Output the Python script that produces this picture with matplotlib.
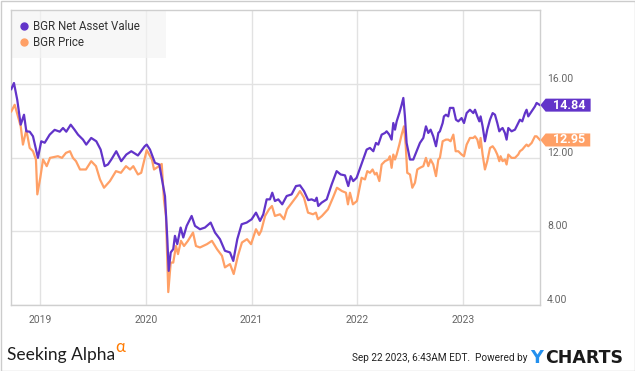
import matplotlib
matplotlib.use('Agg')
import matplotlib.pyplot as plt
from matplotlib.lines import Line2D
from matplotlib.patches import Rectangle
from matplotlib.path import Path

# -------------------- Data --------------------
# dates as decimal years
nav_t = [2018.726, 2018.751, 2018.782, 2018.815, 2018.846, 2018.868, 2018.900, 2018.931,
         2018.978, 2019.009, 2019.042, 2019.089, 2019.136, 2019.184, 2019.215, 2019.246,
         2019.288, 2019.325, 2019.357, 2019.404, 2019.435, 2019.482, 2019.530, 2019.571,
         2019.609, 2019.640, 2019.672, 2019.719, 2019.766, 2019.814, 2019.861, 2019.924,
         2019.988, 2020.007, 2020.038, 2020.085, 2020.126, 2020.149, 2020.180, 2020.202,
         2020.215, 2020.234, 2020.258, 2020.274, 2020.296, 2020.328, 2020.353, 2020.385,
         2020.432, 2020.464, 2020.511, 2020.558, 2020.612, 2020.653, 2020.700, 2020.747,
         2020.795, 2020.826, 2020.864, 2020.905, 2020.953, 2021.000, 2021.041, 2021.079,
         2021.110, 2021.142, 2021.173, 2021.195, 2021.220, 2021.252, 2021.289, 2021.331,
         2021.378, 2021.419, 2021.457, 2021.495, 2021.535, 2021.568, 2021.599, 2021.615,
         2021.630, 2021.662, 2021.710, 2021.757, 2021.804, 2021.842, 2021.883, 2021.914,
         2021.937, 2021.961, 2021.993, 2022.088, 2022.119, 2022.151, 2022.176, 2022.198,
         2022.230, 2022.261, 2022.277, 2022.302, 2022.324, 2022.340, 2022.356, 2022.372,
         2022.397, 2022.419, 2022.435, 2022.450, 2022.466, 2022.498, 2022.529, 2022.561,
         2022.592, 2022.624, 2022.649, 2022.671, 2022.693, 2022.718, 2022.744, 2022.766,
         2022.781, 2022.807, 2022.819, 2022.838, 2022.860, 2022.876, 2022.908, 2022.933,
         2022.955, 2022.986, 2023.009, 2023.034, 2023.065, 2023.097, 2023.113, 2023.135,
         2023.154, 2023.166, 2023.185, 2023.207, 2023.229, 2023.255, 2023.280, 2023.302,
         2023.324, 2023.343, 2023.355, 2023.374, 2023.396, 2023.412, 2023.428, 2023.459,
         2023.491, 2023.522, 2023.538, 2023.560, 2023.586, 2023.601, 2023.617, 2023.649,
         2023.680, 2023.696, 2023.728]
nav_v = [15.71, 16.04, 15.13, 13.78, 14.32, 13.42, 13.40, 13.15,
         11.98, 12.88, 12.80, 13.24, 13.50, 13.40, 13.60, 13.40,
         13.78, 13.50, 13.24, 12.97, 12.70, 13.06, 12.88, 12.43,
         11.53, 11.62, 11.89, 12.34, 11.80, 12.16, 12.34, 12.11,
         12.61, 12.70, 12.43, 11.71, 11.62, 10.90, 9.90, 7.57,
         5.85, 6.85, 7.03, 7.75, 7.30, 8.20, 7.66, 8.29,
         8.83, 8.29, 8.11, 8.20, 8.47, 7.93, 7.57, 6.94,
         6.85, 6.39, 7.57, 8.38, 8.47, 8.65, 9.01, 8.56,
         8.92, 9.73, 9.73, 10.09, 9.64, 9.73, 9.46, 9.91,
         10.00, 10.45, 10.49, 10.18, 9.69, 9.73, 9.64, 9.82,
         9.37, 9.55, 9.73, 10.54, 11.26, 11.08, 11.03, 10.45,
         10.99, 10.72, 10.90, 12.43, 12.52, 12.34, 12.79, 12.70,
         13.24, 13.33, 13.42, 13.24, 12.97, 13.87, 13.51, 13.96,
         14.41, 14.86, 15.23, 14.23, 12.79, 11.89, 11.89, 12.34,
         12.79, 13.06, 13.69, 13.33, 13.51, 13.15, 12.61, 13.33,
         13.42, 13.87, 14.23, 14.32, 14.23, 14.69, 14.69, 14.05,
         13.96, 14.14, 13.87, 14.41, 14.59, 14.41, 14.59, 14.23,
         13.96, 14.23, 13.69, 12.88, 13.51, 14.05, 14.41, 14.32,
         13.87, 13.42, 13.51, 13.60, 13.33, 12.97, 13.60, 13.42,
         13.51, 13.87, 14.05, 13.96, 14.41, 14.59, 14.23, 14.50,
         14.77, 14.96, 14.84]

price_t = [2018.726, 2018.758, 2018.815, 2018.836, 2018.868, 2018.900, 2018.931, 2018.959,
           2018.972, 2019.000, 2019.026, 2019.061, 2019.092, 2019.167, 2019.205, 2019.243,
           2019.281, 2019.309, 2019.338, 2019.376, 2019.432, 2019.482, 2019.527, 2019.565,
           2019.603, 2019.659, 2019.716, 2019.763, 2019.811, 2019.849, 2019.880, 2019.924,
           2019.955, 2020.007, 2020.057, 2020.076, 2020.123, 2020.149, 2020.170, 2020.189,
           2020.211, 2020.234, 2020.258, 2020.284, 2020.303, 2020.331, 2020.360, 2020.397,
           2020.445, 2020.473, 2020.511, 2020.577, 2020.624, 2020.672, 2020.719, 2020.747,
           2020.795, 2020.830, 2020.870, 2020.908, 2020.956, 2020.994, 2021.041, 2021.070,
           2021.090, 2021.127, 2021.164, 2021.192, 2021.220, 2021.268, 2021.306, 2021.334,
           2021.381, 2021.428, 2021.457, 2021.495, 2021.533, 2021.580, 2021.608, 2021.627,
           2021.665, 2021.722, 2021.769, 2021.807, 2021.854, 2021.892, 2021.911, 2021.930,
           2021.958, 2021.996, 2022.040, 2022.072, 2022.094, 2022.119, 2022.144, 2022.166,
           2022.182, 2022.208, 2022.230, 2022.261, 2022.293, 2022.308, 2022.324, 2022.340,
           2022.356, 2022.372, 2022.397, 2022.419, 2022.441, 2022.457, 2022.472, 2022.498,
           2022.520, 2022.545, 2022.567, 2022.592, 2022.624, 2022.649, 2022.671, 2022.693,
           2022.718, 2022.744, 2022.766, 2022.781, 2022.807, 2022.838, 2022.860, 2022.882,
           2022.908, 2022.930, 2022.955, 2022.986, 2023.009, 2023.034, 2023.065, 2023.097,
           2023.113, 2023.135, 2023.154, 2023.166, 2023.185, 2023.207, 2023.229, 2023.255,
           2023.280, 2023.302, 2023.324, 2023.343, 2023.355, 2023.374, 2023.396, 2023.412,
           2023.428, 2023.459, 2023.491, 2023.522, 2023.538, 2023.560, 2023.586, 2023.601,
           2023.617, 2023.649, 2023.680, 2023.696, 2023.728]
price_v = [14.50, 14.86, 13.69, 12.70, 13.50, 12.52, 12.34, 11.89,
           10.00, 10.90, 11.89, 11.53, 11.98, 12.07, 11.98, 12.25,
           12.34, 11.98, 11.80, 11.35, 11.35, 11.80, 11.53, 10.81,
           10.36, 10.72, 11.26, 11.17, 11.53, 11.35, 11.53, 11.08,
           11.17, 12.40, 11.89, 11.35, 11.53, 11.65, 9.73, 8.83,
           4.70, 6.30, 6.30, 7.20, 6.76, 7.48, 7.20, 7.48,
           7.93, 7.20, 7.12, 7.30, 7.48, 7.03, 6.67, 6.04,
           6.22, 5.68, 6.67, 7.39, 7.57, 7.30, 8.11, 7.80,
           8.02, 8.83, 9.19, 9.37, 8.83, 8.92, 8.65, 9.19,
           9.55, 9.91, 10.18, 9.82, 9.01, 8.92, 9.01, 8.65,
           8.83, 9.19, 9.82, 10.36, 10.18, 10.09, 9.46, 10.09,
           9.46, 9.64, 10.90, 10.81, 11.26, 11.17, 11.35, 11.08,
           11.17, 10.72, 11.62, 11.80, 11.89, 12.07, 11.44, 12.16,
           11.89, 12.16, 12.70, 13.24, 13.69, 12.70, 11.17, 11.08,
           10.36, 10.63, 11.35, 11.44, 11.53, 11.98, 11.53, 11.89,
           11.62, 10.99, 11.89, 11.98, 12.88, 12.97, 12.97, 12.88,
           13.24, 12.34, 12.34, 12.16, 12.07, 12.70, 13.06, 13.06,
           13.15, 12.97, 12.52, 13.06, 12.16, 11.35, 11.80, 12.52,
           12.61, 12.43, 12.16, 11.80, 12.07, 11.80, 11.89, 11.62,
           12.16, 11.98, 11.98, 12.16, 12.34, 12.43, 12.61, 12.70,
           12.61, 12.79, 13.15, 13.15, 12.95]

year_ticks = [2019, 2020, 2021, 2022, 2023]
year_labels = ['2019', '2020', '2021', '2022', '2023']
value_ticks = [4, 8, 12, 16]
value_labels = ['4.00', '8.00', '12.00', '16.00']

NAV_COLOR = '#6234c9'
PRICE_COLOR = '#ffa066'
GRID_COLOR = '#e2e2e2'
SPINE_COLOR = '#cfcfcf'
# ---------------------------------------------------------------

plt.rcParams['font.family'] = ['Roboto', 'DejaVu Sans']


def tag_box(x0, y0, width, height, mutation_size):
    """Value tag with a small arrow tip on the left."""
    pl, pr, tw = 0.55 * mutation_size, 0.45 * mutation_size, 0.42 * mutation_size
    left, right = x0 - pl, x0 + width + pr
    mid = y0 + height / 2
    verts = [(left, y0), (right, y0), (right, y0 + height), (left, y0 + height),
             (left - tw, mid), (left, y0), (left, y0)]
    codes = [Path.MOVETO] + [Path.LINETO] * 5 + [Path.CLOSEPOLY]
    return Path(verts, codes)


fig = plt.figure(figsize=(6.35, 3.71), dpi=100)
ax = fig.add_axes([11 / 635, 1 - 305 / 371, 529 / 635, 295 / 371])

ax.plot(price_t, price_v, color=PRICE_COLOR, lw=1.6, zorder=3, solid_joinstyle='round')
ax.plot(nav_t, nav_v, color=NAV_COLOR, lw=1.6, zorder=4, solid_joinstyle='round')

ax.set_xlim(2018.723, 2023.728)
ax.set_ylim(4, 20)
ax.set_xticks(year_ticks)
ax.set_xticklabels(year_labels)
ax.set_yticks(value_ticks)
ax.set_yticklabels(value_labels)
ax.yaxis.tick_right()
ax.tick_params(axis='both', length=0, labelsize=7.5, labelcolor='#666666')
ax.tick_params(axis='x', pad=7)
ax.tick_params(axis='y', pad=5)
for lab in ax.get_yticklabels():
    lab.set_va('bottom')
ax.grid(True, color=GRID_COLOR, lw=1)
ax.set_axisbelow(True)
for sp in ax.spines.values():
    sp.set_color(SPINE_COLOR)
    sp.set_linewidth(1)

# legend block
ax.add_patch(Rectangle((0, 1 - 0.163), 0.293, 0.163, transform=ax.transAxes,
                       facecolor='#f3f3f3', alpha=0.65, edgecolor='none', zorder=2.5))
handles = [Line2D([], [], ls='', marker='o', ms=5, color=NAV_COLOR),
           Line2D([], [], ls='', marker='o', ms=5, color=PRICE_COLOR)]
leg = ax.legend(handles, ['BGR Net Asset Value', 'BGR Price'], loc='upper left',
                bbox_to_anchor=(0.0, 1.0), frameon=False, fontsize=8.3,
                handlelength=0.6, handletextpad=0.5, labelspacing=0.25,
                borderpad=0.55, borderaxespad=0.3)
for txt in leg.get_texts():
    txt.set_color('#333333')

# value tags at the right edge
for t, v, c in [(nav_t, nav_v, NAV_COLOR), (price_t, price_v, PRICE_COLOR)]:
    ax.annotate(f'{v[-1]:.2f}', xy=(t[-1], v[-1]), xytext=(9, 0), textcoords='offset points',
                ha='left', va='center', fontsize=9, fontweight='bold', color='white',
                bbox=dict(boxstyle=tag_box, facecolor=c, edgecolor='none'),
                annotation_clip=False, zorder=6)

# footer
fig.text(7 / 635, 1 - 360 / 371, 'Seeking Alpha', fontsize=12.5, color='#1e1e1e',
         family=['Lato', 'DejaVu Sans'], ha='left', va='baseline')
fig.text(115 / 635, 1 - 347 / 371, '\u03b1', fontsize=12, color='#ff7a00',
         family=['Lato', 'DejaVu Sans'], ha='left', va='center')
fig.text(527 / 635, 1 - 358 / 371, 'Sep 22 2023, 6:43AM EDT.  Powered by', fontsize=7.2,
         color='#222222', family=['Roboto', 'DejaVu Sans'], ha='right', va='center')
fig.text(530 / 635, 1 - 358 / 371, 'Y', fontsize=12.7, fontweight='bold', color='#2390ee',
         family=['DejaVu Sans'], ha='left', va='center')
fig.text(545 / 635, 1 - 358 / 371, 'CHARTS', fontsize=12.5, fontweight='bold', color='#1a1a1a',
         family=['DejaVu Sans'], ha='left', va='center')

# outer frame
fig.patches.append(Rectangle((0.5 / 635, 0.5 / 371), 634 / 635, 370 / 371,
                             transform=fig.transFigure, fill=False,
                             edgecolor='#cccccc', lw=1))

fig.savefig('out.png', dpi=100)
